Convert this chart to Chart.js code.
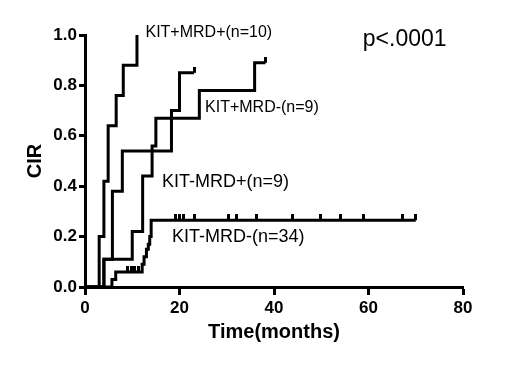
<!DOCTYPE html>
<html>
<head>
<meta charset="utf-8">
<script src="https://cdn.jsdelivr.net/npm/chart.js@4.4.1/dist/chart.umd.min.js"></script>
<style>
  html, body { margin: 0; padding: 0; background: #fff; }
  canvas { display: block; }
</style>
</head>
<body>
<canvas id="cirChart" width="520" height="366"></canvas>
<script>
// axis ticks
const xTicks = [0, 20, 40, 60, 80];
const yTicks = [0, 0.2, 0.4, 0.6, 0.8, 1.0];

// cumulative incidence of relapse (time in months)
const posPosTime = [0, 3.0, 4.0, 4.9, 6.6, 8.1, 11.0];
const posPosCir  = [0, 0.20, 0.42, 0.64, 0.76, 0.88, 1.0];

const posNegTime = [0, 4.0, 10.0, 12.2, 14.2, 15.0, 24.2, 35.9, 38.2];
const posNegCir  = [0, 0.11, 0.22, 0.44, 0.56, 0.67, 0.78, 0.89, 0.89];

const negPosTime = [0, 4.0, 5.8, 7.9, 18.3, 20.0, 23.1];
const negPosCir  = [0, 0.11, 0.38, 0.54, 0.70, 0.85, 0.85];

const negNegTime = [0, 5.7, 6.5, 12.1, 12.5, 13.0, 13.4, 13.7, 14.0, 70];
const negNegCir  = [0, 0.03, 0.06, 0.09, 0.12, 0.15, 0.17, 0.20, 0.265, 0.265];

// censored patients (tick marks)
const censorTime = [23.1, 38.2, 9.1, 9.8, 10.5, 11.3,
  19.1, 20.0, 20.8, 23.1, 30.4, 32.1, 36.3, 43.9, 49.9, 54.1, 59.0, 67.1, 70];
const censorCir  = [0.85, 0.89, 0.06, 0.06, 0.06, 0.06,
  0.265, 0.265, 0.265, 0.265, 0.265, 0.265, 0.265, 0.265, 0.265, 0.265, 0.265, 0.265, 0.265];

const groupNames = ['KIT+MRD+(n=10)', 'KIT+MRD-(n=9)', 'KIT-MRD+(n=9)', 'KIT-MRD-(n=34)'];
const pValueText = 'p<.0001';

const FONT = "'Liberation Sans', Arial, sans-serif";

const toPoints = (xs, ys) => xs.map((x, i) => ({ x: x, y: ys[i] }));

// small tick that only sticks up from the line
const tickMark = document.createElement('canvas');
tickMark.width = 3;
tickMark.height = 12;
const tctx = tickMark.getContext('2d');
tctx.fillStyle = '#000';
tctx.fillRect(0, 0, 3, 6);

const curveStyle = {
  showLine: true,
  stepped: true,
  borderColor: '#000',
  borderWidth: 3,
  pointRadius: 0,
  fill: false,
  clip: false
};

// where the text labels sit, in data units
const labelSpots = [
  { text: groupNames[0], x: 12.8, y: 1.01, size: 16 },
  { text: groupNames[1], x: 25.4, y: 0.71, size: 16 },
  { text: groupNames[2], x: 16.3, y: 0.415, size: 18 },
  { text: groupNames[3], x: 18.4, y: 0.20, size: 18 },
  { text: pValueText, x: 58.8, y: 0.98, size: 23 }
];

const textLabels = {
  id: 'textLabels',
  afterDatasetsDraw(chart) {
    const { ctx, scales } = chart;
    ctx.save();
    ctx.fillStyle = '#000';
    ctx.textAlign = 'left';
    ctx.textBaseline = 'middle';
    labelSpots.forEach(l => {
      ctx.font = l.size + 'px ' + FONT;
      ctx.fillText(l.text, scales.x.getPixelForValue(l.x), scales.y.getPixelForValue(l.y));
    });
    ctx.restore();
  }
};

const ctx = document.getElementById('cirChart').getContext('2d');
new Chart(ctx, {
  type: 'scatter',
  data: {
    datasets: [
      { ...curveStyle, label: groupNames[0], data: toPoints(posPosTime, posPosCir) },
      { ...curveStyle, label: groupNames[1], data: toPoints(posNegTime, posNegCir) },
      { ...curveStyle, label: groupNames[2], data: toPoints(negPosTime, negPosCir) },
      { ...curveStyle, label: groupNames[3], data: toPoints(negNegTime, negNegCir) },
      {
        label: 'censored',
        data: toPoints(censorTime, censorCir),
        showLine: false,
        pointStyle: tickMark,
        pointRadius: 6,
        clip: false
      }
    ]
  },
  options: {
    responsive: false,
    animation: false,
    devicePixelRatio: 1,
    layout: { padding: { top: 35, right: 57, bottom: 0, left: 0 } },
    plugins: { legend: { display: false }, tooltip: { enabled: false } },
    scales: {
      x: {
        type: 'linear',
        min: 0,
        max: 80,
        afterBuildTicks: s => { s.ticks = xTicks.map(v => ({ value: v })); },
        afterFit: s => { s.height = 79; },
        border: { display: true, color: '#000', width: 3 },
        grid: { drawOnChartArea: false, drawTicks: true, tickLength: 8, tickWidth: 3, color: '#000' },
        ticks: { color: '#000', padding: 3, maxRotation: 0, font: { family: FONT, size: 17, weight: 'bold' } },
        title: {
          display: true, text: 'Time(months)', color: '#000',
          font: { family: FONT, size: 20, weight: 'bold' },
          padding: { top: 0, bottom: 22 }
        }
      },
      y: {
        type: 'linear',
        min: 0,
        max: 1,
        afterBuildTicks: s => { s.ticks = yTicks.map(v => ({ value: v })); },
        afterFit: s => { s.width = 85; },
        border: { display: true, color: '#000', width: 3 },
        grid: { drawOnChartArea: false, drawTicks: true, tickLength: 6, tickWidth: 3, color: '#000' },
        ticks: {
          color: '#000', padding: 2,
          font: { family: FONT, size: 17, weight: 'bold' },
          callback: v => v.toFixed(1)
        },
        title: {
          display: true, text: 'CIR', color: '#000',
          font: { family: FONT, size: 20, weight: 'bold' },
          padding: { top: 23, bottom: 0 }
        }
      }
    }
  },
  plugins: [textLabels]
});
</script>
</body>
</html>
